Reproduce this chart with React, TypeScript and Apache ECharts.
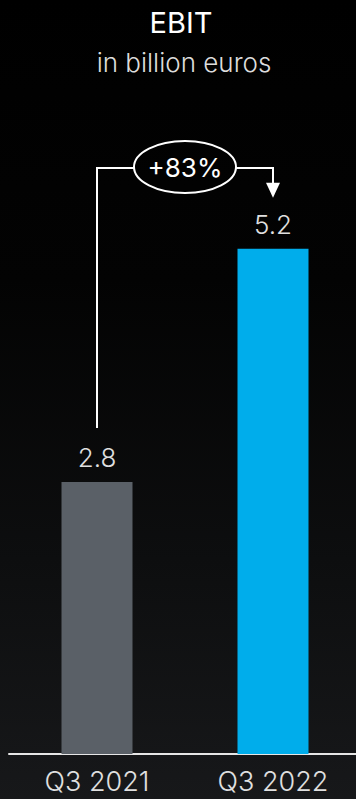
import React, { useEffect, useRef } from "react";
import * as echarts from "echarts";

const categories = ["Q3 2021", "Q3 2022"];
const values = [2.8, 5.2];
const barColors = ["#5a6067", "#00adeb"];
const changeLabel = "+83%";
const titleText = "EBIT";
const subtitleText = "in billion euros";

export default function App() {
  const ref = useRef<HTMLDivElement>(null);
  useEffect(() => {
    document.body.style.margin = "0";
    const chart = echarts.init(ref.current!, null, { renderer: "svg" });
    const font = "Inter, 'Open Sans', sans-serif";
    chart.setOption({
      animation: false,
      backgroundColor: "transparent",
      grid: { left: 9, width: 352, top: 171, bottom: 45, outerBoundsMode: "none", containLabel: false },
      xAxis: {
        type: "category",
        data: categories,
        axisLine: { show: true, lineStyle: { color: "#e6e6e6", width: 2 } },
        axisTick: { show: false },
        axisLabel: { color: "#e0e0e0", fontSize: 27, fontWeight: 300, fontFamily: font, margin: 14 },
      },
      yAxis: {
        type: "value",
        min: 0,
        max: 6,
        show: false,
        splitLine: { show: false },
      },
      series: [
        {
          type: "bar",
          barWidth: 71,
          data: values.map((v, i) => ({ value: v, itemStyle: { color: barColors[i] } })),
          label: {
            show: true,
            position: "top",
            distance: 11,
            color: "#e0e0e0",
            fontSize: 26,
            fontWeight: 300,
            fontFamily: font,
          },
        },
      ],
    });

    const p1 = chart.convertToPixel({ xAxisIndex: 0, yAxisIndex: 0 }, [0, values[0]]) as number[];
    const p2 = chart.convertToPixel({ xAxisIndex: 0, yAxisIndex: 0 }, [1, values[1]]) as number[];
    const x1 = Math.round(p1[0]);
    const x2 = Math.round(p2[0]);
    const lineY = 168;
    const cx = (x1 + x2) / 2;
    const rx = 51;
    const ry = 26;
    const tipY = p2[1] - 51;
    const stroke = { stroke: "#ffffff", lineWidth: 2, fill: null as any };
    chart.setOption({
      graphic: [
        {
          type: "text",
          x: 181,
          y: 22,
          style: { text: titleText, fill: "#ffffff", fontSize: 29, fontWeight: 400, fontFamily: font, align: "center", verticalAlign: "middle" },
        },
        {
          type: "text",
          x: 184,
          y: 62,
          style: { text: subtitleText, fill: "#dddddd", fontSize: 26, fontWeight: 300, fontFamily: font, align: "center", verticalAlign: "middle" },
        },
        { type: "polyline", shape: { points: [[x1, p1[1] - 54], [x1, lineY], [cx - rx, lineY]] }, style: stroke },
        { type: "polyline", shape: { points: [[cx + rx, lineY], [x2, lineY], [x2, tipY - 14]] }, style: stroke },
        { type: "polygon", shape: { points: [[x2 - 7, tipY - 15], [x2 + 7, tipY - 15], [x2, tipY]] }, style: { fill: "#ffffff" } },
        { type: "ellipse", shape: { cx, cy: lineY - 1, rx, ry }, style: { stroke: "#ffffff", lineWidth: 2, fill: "transparent" } },
        {
          type: "text",
          x: cx,
          y: lineY - 1,
          style: { text: changeLabel, fill: "#ffffff", fontSize: 26, fontWeight: 400, fontFamily: font, align: "center", verticalAlign: "middle" },
        },
      ],
    });
    return () => chart.dispose();
  }, []);
  return (
    <div
      ref={ref}
      style={{
        position: "fixed",
        left: 0,
        top: 0,
        width: 356,
        height: 799,
        background: "linear-gradient(to bottom, #000000 0%, #030303 35%, #0d0e0f 70%, #17181a 100%)",
      }}
    />
  );
}
